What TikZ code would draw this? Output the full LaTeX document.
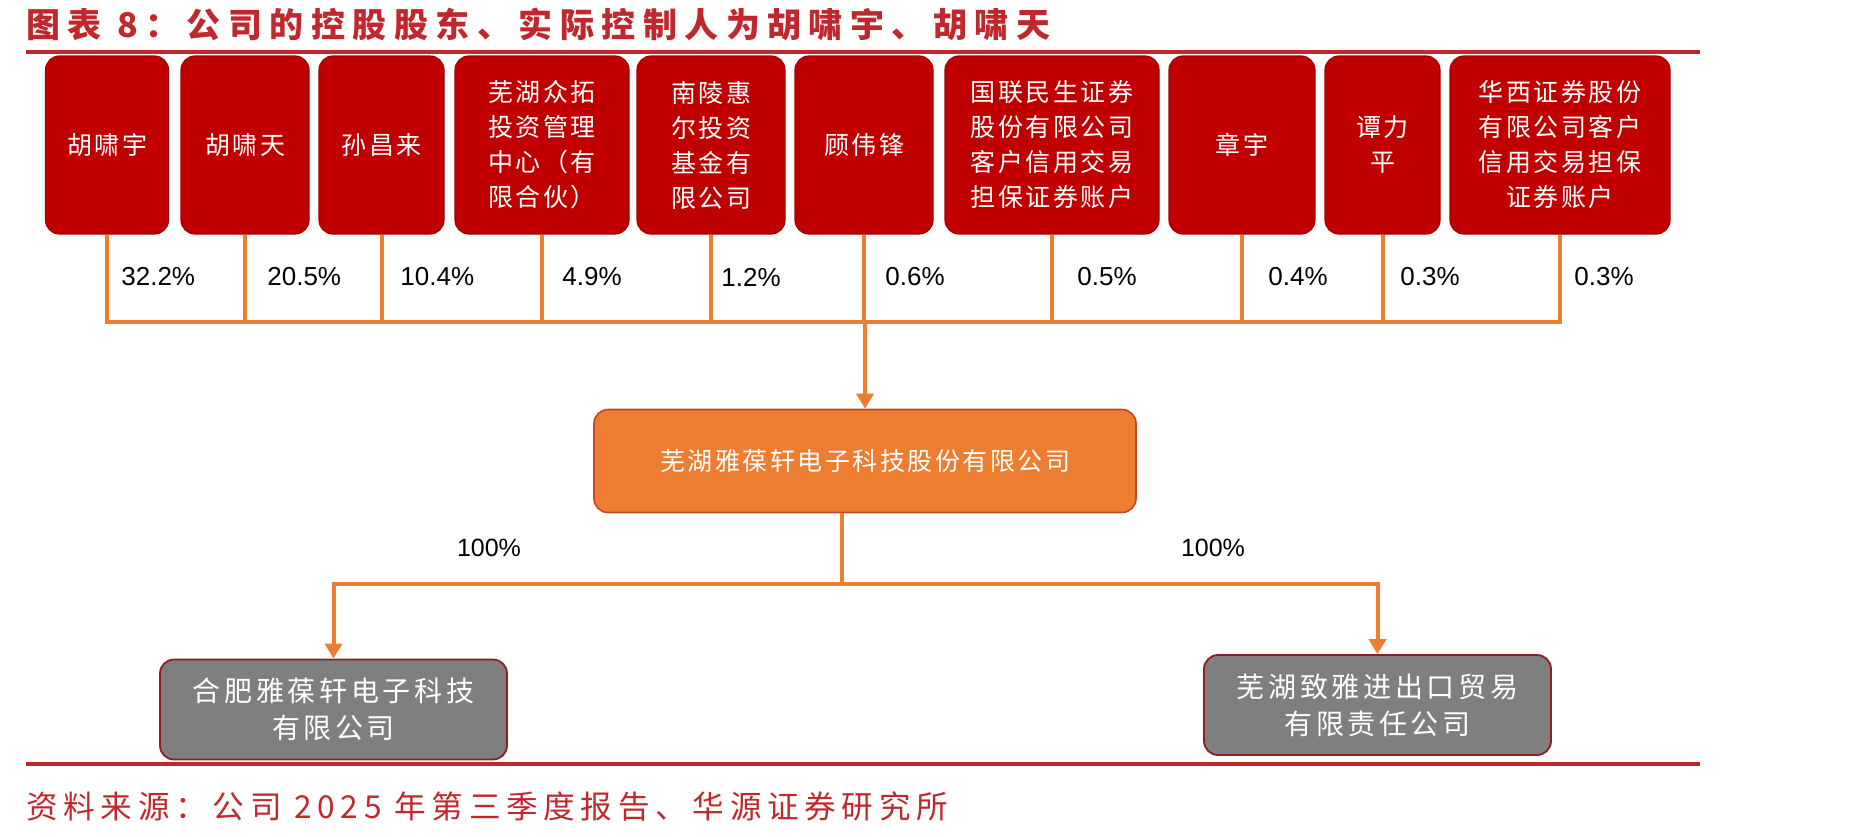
\documentclass[tikz,border=0pt]{standalone}
\usepackage{fontspec}
\setmainfont{Liberation Sans}
\newfontfamily\cjk[LetterSpace=10]{Noto Sans CJK SC}
\newfontfamily\cjksub[LetterSpace=13]{Noto Sans CJK SC}
\newfontfamily\cjkfoot[LetterSpace=18]{Noto Sans CJK SC}
\newfontfamily\cjktitle[LetterSpace=22]{Noto Sans CJK SC}
\usetikzlibrary{calc,arrows.meta}
\definecolor{boxred}{RGB}{192,0,0}
\definecolor{rulered}{RGB}{192,40,45}
\definecolor{linkorange}{RGB}{237,125,49}
\definecolor{orangeedge}{RGB}{200,70,40}
\definecolor{subgray}{RGB}{127,127,127}
\definecolor{subedge}{RGB}{140,30,40}
\tikzset{
  holder/.style={draw=boxred!85!black, line width=0.6pt, fill=boxred,
        rounded corners=7pt, text=white, align=center, inner sep=0pt,
        minimum height=89pt, font=\cjk\fontsize{12.5}{17.5}\selectfont},
  share/.style={anchor=west, inner sep=0pt, font=\fontsize{13}{15}\selectfont},
  company/.style={draw=orangeedge, line width=0.8pt, fill=linkorange,
        rounded corners=7pt, text=white, inner sep=0pt,
        minimum width=271pt, minimum height=51.5pt,
        font=\cjk\fontsize{12.5}{17.5}\selectfont},
  subsidiary/.style={draw=subedge, line width=0.9pt, fill=subgray,
        rounded corners=7pt, text=white, align=center, inner sep=0pt,
        minimum width=173.5pt, minimum height=50pt,
        font=\cjksub\fontsize{14}{18.5}\selectfont},
  link/.style={draw=linkorange, line width=2pt},
  tip/.style={-{Triangle[width=8.5pt,length=7.5pt]}},
  rule/.style={draw=rulered, line width=1.8pt}
}
\def\Holder#1#2#3#4#5#6{%
 \node[holder, minimum width=#3pt] (#1) at (#2,145) {#4};
 \node[share] (#1pct) at (#5,277) {#6};
 \draw[link] (#1.south) |- (join);
}

\begin{document}
\begin{tikzpicture}[x=0.5pt,y=-0.5pt]
\useasboundingbox (0,0) rectangle (1852,836);
\node[anchor=west, inner sep=0pt, text=rulered,
      font=\cjktitle\bfseries\fontsize{17}{20}\selectfont] (title) at (26,24)
      {图表 8：公司的控股股东、实际控制人为胡啸宇、胡啸天};
\draw[rule] (26,52) -- (1700,52);
\coordinate (join) at (865,322);
\Holder{h1}{107}{61.5}{胡啸宇}{121}{32.2\%}
\Holder{h2}{245}{64}{胡啸天}{267}{20.5\%}
\Holder{h3}{381.5}{62.5}{孙昌来}{400}{10.4\%}
\Holder{h4}{542}{87}{芜湖众拓\\投资管理\\中心（有\\限合伙）}{562}{4.9\%}
\Holder{h5}{711}{74}{南陵惠\\尔投资\\基金有\\限公司}{721}{1.2\%}
\Holder{h6}{864}{69}{顾伟锋}{885}{0.6\%}
\Holder{h7}{1052}{107}{国联民生证券\\股份有限公司\\客户信用交易\\担保证券账户}{1077}{0.5\%}
\Holder{h8}{1242}{73}{章宇}{1268}{0.4\%}
\Holder{h9}{1382.5}{57.5}{谭力\\平}{1400}{0.3\%}
\Holder{h10}{1560}{110}{华西证券股份\\有限公司客户\\信用交易担保\\证券账户}{1574}{0.3\%}
\node[company] (company) at (865,461) {芜湖雅葆轩电子科技股份有限公司};
\draw[link,tip] (join) -- (company.north);
\coordinate (split) at (842,584);
\node[subsidiary] (sub1) at (333.5,709.5) {合肥雅葆轩电子科技\\有限公司};
\node[subsidiary] (sub2) at (1377.5,705) {芜湖致雅进出口贸易\\有限责任公司};
\draw[link] (company.south -| split) -- (split);
\draw[link,tip] (split) -| (sub1.north);
\draw[link,tip] (split) -| (sub2.north);
\node[inner sep=0pt, font=\fontsize{12.5}{15}\selectfont] (own1) at (489,548) {100\%};
\node[inner sep=0pt, font=\fontsize{12.5}{15}\selectfont] (own2) at (1213,548) {100\%};
\draw[rule] (26,764) -- (1700,764);
\node[anchor=west, inner sep=0pt, text=rulered,
      font=\cjkfoot\fontsize{15.8}{18}\selectfont] (source) at (26,807)
      {资料来源：公司 2025 年第三季度报告、华源证券研究所};
\end{tikzpicture}
\end{document}
